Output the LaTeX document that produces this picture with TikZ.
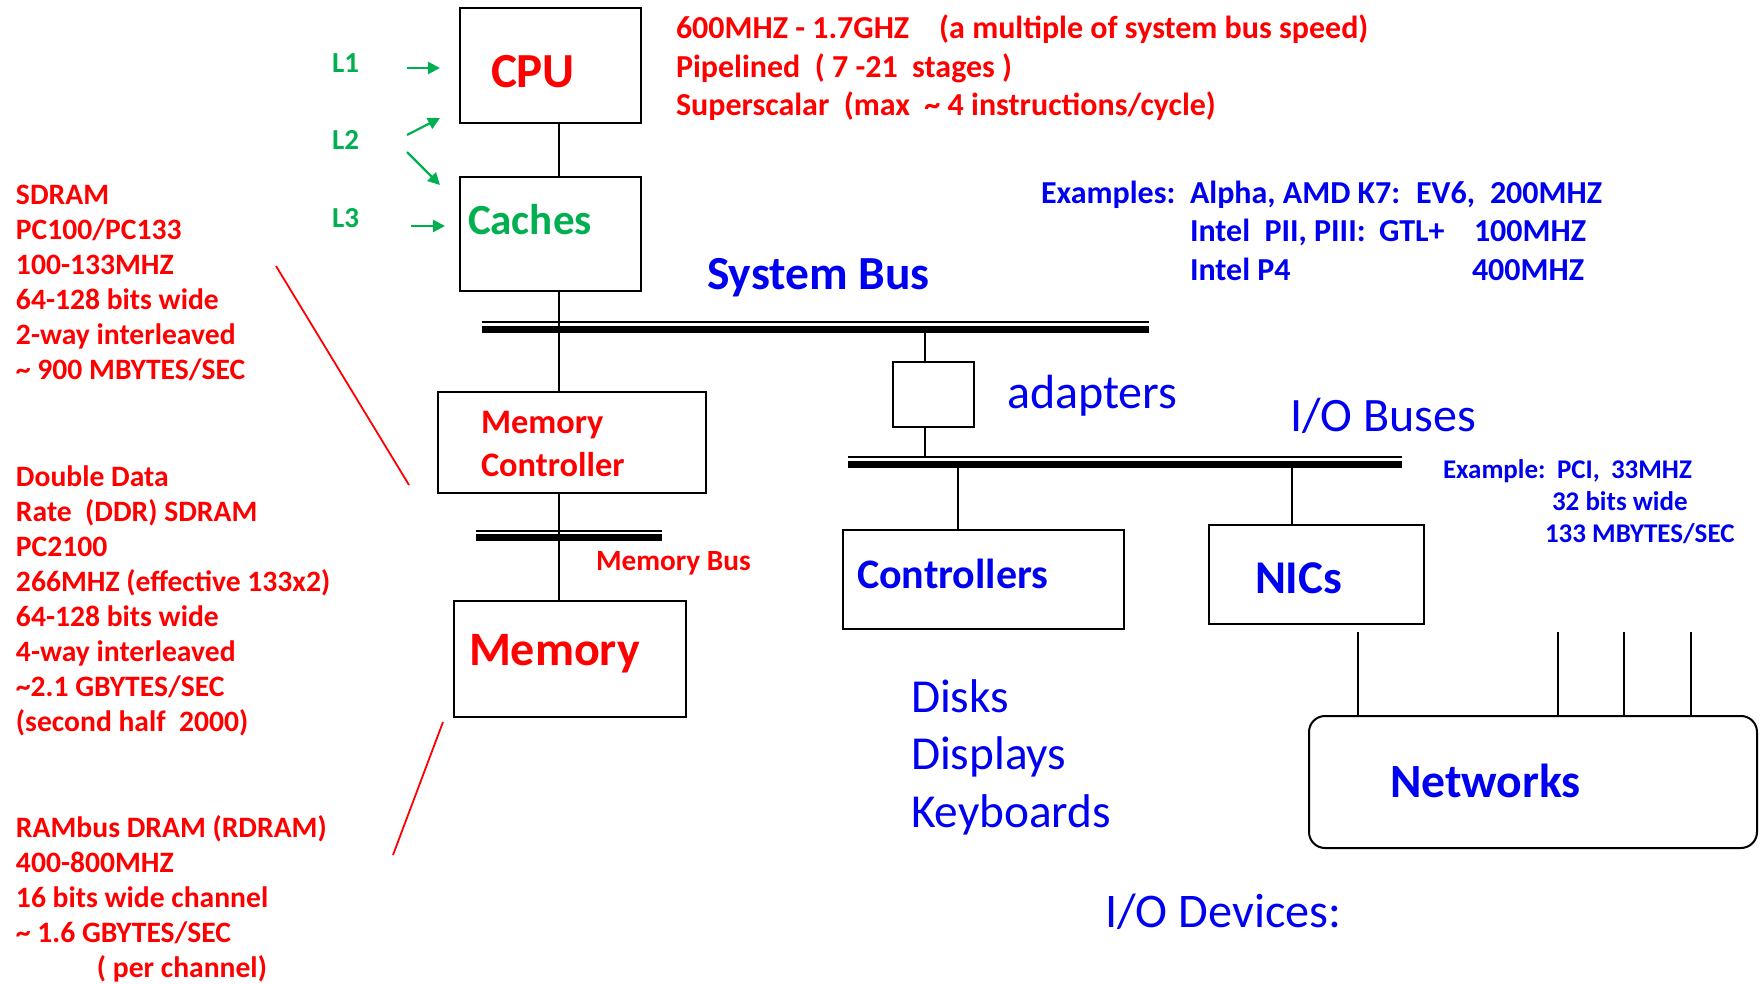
\documentclass[tikz,border=0pt]{standalone}
\usepackage{fontspec}
\setmainfont{Carlito}
\usetikzlibrary{arrows.meta}
\definecolor{gr}{RGB}{0,176,80}
\definecolor{rd}{RGB}{255,0,0}
\definecolor{bl}{RGB}{0,0,240}
\newcommand\fsz[2]{\fontsize{#1}{#2}\selectfont}
\begin{document}
\begin{tikzpicture}[x=1pt,y=-1pt,
  box/.style={draw=black, line width=2pt, inner sep=0pt, outer sep=0pt},
  conn/.style={draw=black, line width=2pt},
  txt/.style={inner sep=0pt, outer sep=0pt, anchor=base west},
  garrow/.style={draw=gr, line width=2.2pt, -{Triangle[length=12pt,width=12pt]}},
  pointer/.style={draw=rd, line width=1.8pt},
  redb/.style={txt, text=rd, font=\bfseries},
  blb/.style={txt, text=bl, font=\bfseries},
  blr/.style={txt, text=bl},
  grb/.style={txt, text=gr, font=\bfseries}]
\useasboundingbox (0,0) rectangle (1764,984);
\fill[white] (0,0) rectangle (1764,984);

% ---- boxes
\node[box, minimum width=181pt, minimum height=115pt] (cpu) at (550.5,65.5) {};
\node[box, minimum width=181pt, minimum height=114pt] (cache) at (550.5,234) {};
\node[box, minimum width=268pt, minimum height=101pt] (mc) at (572,442.5) {};
\node[box, minimum width=232pt, minimum height=116pt] (mem) at (570,659) {};
\node[box, minimum width=81pt, minimum height=65pt] (adapt) at (933.5,394.5) {};
\node[box, minimum width=281pt, minimum height=99pt] (ctrl) at (983.5,579.5) {};
\node[box, minimum width=215pt, minimum height=99pt] (nic) at (1316.5,574.5) {};
\node[box, rounded corners=16pt, minimum width=448pt, minimum height=132pt] (net) at (1533,782) {};

% ---- box texts
\node[redb, font=\bfseries\fsz{49}{52}] (cputxt) at (491,88) {CPU};
\node[grb, font=\bfseries\fsz{43}{46}] (cachetxt) at (468,235) {Caches};
\node[redb, font=\bfseries\fsz{34.4}{43}, align=left] (mctxt) at (481,476) {Memory\\Controller};
\node[redb, font=\bfseries\fsz{48}{50}] (memtxt) at (469,665) {Memory};
\node[blb, font=\bfseries\fsz{42}{46}] (ctrltxt) at (857,588) {Controllers};
\node[blb, font=\bfseries\fsz{47}{50}] (nictxt) at (1255,593) {NICs};
\node[blb, font=\bfseries\fsz{47.7}{50}] (nettxt) at (1390,797) {Networks};

% ---- buses
\coordinate (sbustop) at (0,322);
\coordinate (sbusbot) at (0,332.5);
\draw[line width=2pt] (482,322) -- (1149,322);
\fill (482,325.5) rectangle (1149,332.5);
\draw[line width=2pt] (476,531) -- (662,531);
\fill (476,534) rectangle (662,541);
\coordinate (iobustop) at (0,457);
\coordinate (iobusbot) at (0,467.5);
\draw[line width=2pt] (848,457) -- (1402,457);
\fill (848,460.5) rectangle (1402,467.5);

% ---- connectors
\coordinate (trunk) at (559,0);
\coordinate (adx) at (925,0);
\coordinate (ctx) at (958,0);
\coordinate (nix) at (1292,0);
\draw[conn] (cpu.south -| trunk) -- (cache.north -| trunk);
\draw[conn] (cache.south -| trunk) -- (mc.north -| trunk);
\draw[conn] (mc.south -| trunk) -- (mem.north -| trunk);
\draw[conn] (adx |- sbusbot) -- (adapt.north -| adx);
\draw[conn] (adapt.south -| adx) -- (adx |- iobustop);
\draw[conn] (ctx |- iobusbot) -- (ctrl.north -| ctx);
\draw[conn] (nix |- iobusbot) -- (nic.north -| nix);
\foreach \x [count=\i] in {1358,1558,1624,1691} {
  \coordinate (nt\i) at (\x,632);
  \draw[conn] (nt\i) -- (net.north -| nt\i);
}

% ---- cache level labels and arrows
\node[grb, font=\bfseries\fsz{29}{30}] (l1) at (332,73) {L1};
\node[grb, font=\bfseries\fsz{29}{30}] (l2) at (332,150) {L2};
\node[grb, font=\bfseries\fsz{29}{30}] (l3) at (332,228) {L3};
\draw[garrow] (407,68) -- (440,68);
\draw[garrow] (407,135) -- (440,118);
\draw[garrow] (407,152) -- (440,185);
\draw[garrow] (411,226) -- (445,226);

% ---- CPU specs
\node[redb, font=\bfseries\fsz{32}{35}] (s1) at (676,39) {600MHZ - 1.7GHZ\hspace{30pt}(a multiple of system bus speed)};
\node[redb, font=\bfseries\fsz{32}{35}] (s2) at (676,78) {Pipelined\ \ ( 7 -21\ \ stages )};
\node[redb, font=\bfseries\fsz{32}{35}] (s3) at (676,116) {Superscalar\ \ (max\ \ \textasciitilde\ 4 instructions/cycle)};

% ---- system bus examples
\node[blb, font=\bfseries\fsz{32}{35}] (e1) at (1041,204) {Examples:};
\node[blb, font=\bfseries\fsz{32}{35}] (e2) at (1190,204) {Alpha, AMD K7:};
\node[blb, font=\bfseries\fsz{32}{35}] (e3) at (1416,204) {EV6,};
\node[blb, font=\bfseries\fsz{32}{35}] (e4) at (1490,204) {200MHZ};
\node[blb, font=\bfseries\fsz{32}{35}] (e5) at (1190,242) {Intel\ \ PII, PIII:};
\node[blb, font=\bfseries\fsz{32}{35}] (e6) at (1379,242) {GTL+};
\node[blb, font=\bfseries\fsz{32}{35}] (e7) at (1474,242) {100MHZ};
\node[blb, font=\bfseries\fsz{32}{35}] (e8) at (1190,280) {Intel P4};
\node[blb, font=\bfseries\fsz{32}{35}] (e9) at (1472,280) {400MHZ};
\node[blb, font=\bfseries\fsz{47.5}{50}] (sbus) at (707,290) {System Bus};

% ---- I/O side texts
\node[blr, font=\fsz{48}{50}] (adtxt) at (1007,408) {adapters};
\node[blr, font=\fsz{48}{50}] (iobtxt) at (1290,431) {I/O Buses};
\node[blb, font=\bfseries\fsz{27}{32}] (p1) at (1443,478) {Example:};
\node[blb, font=\bfseries\fsz{27}{32}] (p1c) at (1557,478) {PCI,};
\node[blb, font=\bfseries\fsz{27}{32}] (p1d) at (1611,478) {33MHZ};
\node[blb, font=\bfseries\fsz{27}{32}] (p2) at (1552,510) {32 bits wide};
\node[blb, font=\bfseries\fsz{27}{32}] (p3) at (1545,542) {133 MBYTES/SEC};
\node[blr, font=\fsz{47.3}{57.5}, align=left] (devs) at (911,827) {Disks\\Displays\\Keyboards};
\node[blr, font=\fsz{48.3}{50}] (iodev) at (1105,927) {I/O Devices:};

% ---- memory side texts
\node[redb, font=\bfseries\fsz{29.3}{30}] (mbus) at (596,570) {Memory Bus};
\node[redb, font=\bfseries\fsz{29.6}{35}, align=left] (sdram) at (16,379)
  {SDRAM\\PC100/PC133\\100-133MHZ\\64-128 bits wide\\2-way interleaved\\\textasciitilde\ 900 MBYTES/SEC};
\node[redb, font=\bfseries\fsz{29.6}{35}, align=left] (ddr) at (16,731)
  {Double Data\\Rate\ \ (DDR) SDRAM\\PC2100\\266MHZ (effective 133x2)\\64-128 bits wide\\4-way interleaved\\\textasciitilde2.1 GBYTES/SEC\\(second half\ \ 2000)};
\node[redb, font=\bfseries\fsz{29.6}{35}, align=left] (rdram) at (16,977)
  {RAMbus DRAM (RDRAM)\\400-800MHZ\\16 bits wide channel\\\textasciitilde\ 1.6 GBYTES/SEC\\\hspace{81pt}( per channel)};

% ---- red pointer lines
\coordinate (pa1) at (276,266);
\coordinate (pa2) at (409,485);
\coordinate (pb1) at (443,722);
\coordinate (pb2) at (393,855);
\draw[pointer] (pa1) -- (pa2);
\draw[pointer] (pb1) -- (pb2);
\end{tikzpicture}
\end{document}
